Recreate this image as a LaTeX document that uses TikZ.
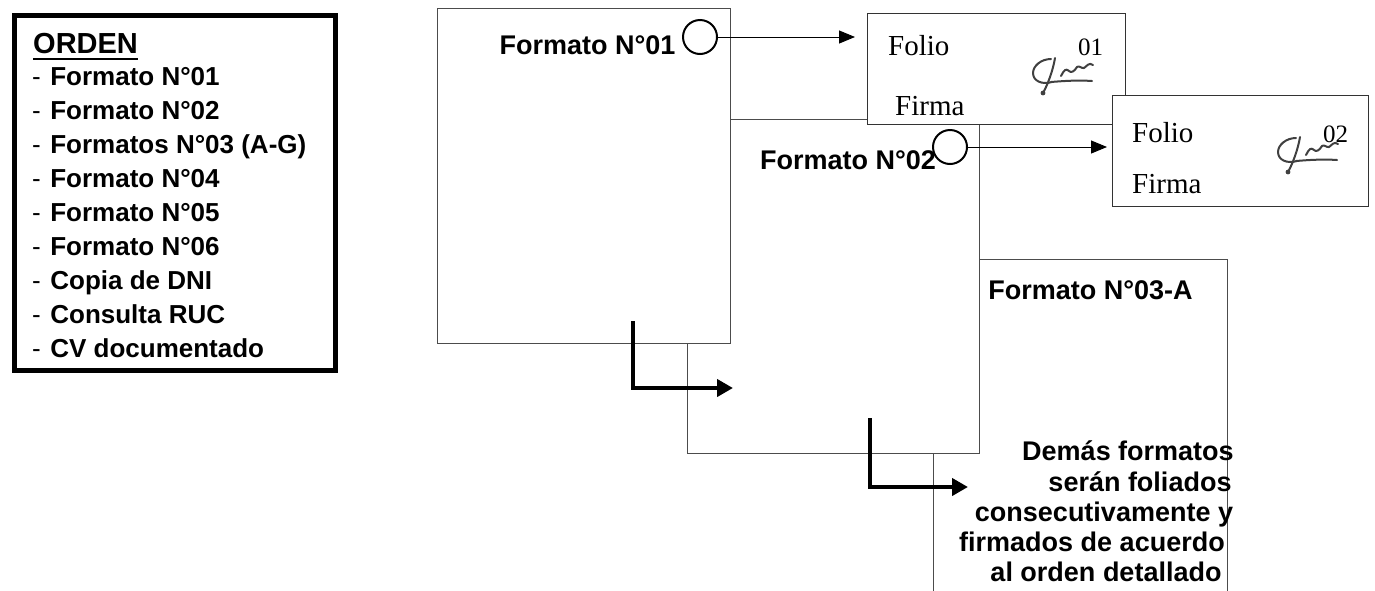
\documentclass[tikz,border=0pt]{standalone}
\usepackage{fontspec}
\setmainfont{Liberation Serif}
\newfontfamily\arialf{Liberation Sans}
\usetikzlibrary{arrows.meta}
\tikzset{
  bigbox/.style={draw=black!70, line width=1.2pt, fill=white, rectangle, inner sep=0, anchor=north west},
  folbox/.style={draw=black!80, line width=1pt, fill=white, rectangle, inner sep=0, anchor=north west},
  lbl/.style={font=\arialf\bfseries\fontsize{27}{31}\selectfont, inner sep=0, anchor=base},
  lst/.style={font=\arialf\fontsize{26}{30}\selectfont, inner sep=0, anchor=base west},
  fol/.style={font=\fontsize{29}{33}\selectfont, inner sep=0, anchor=base west},
  num/.style={font=\fontsize{25}{29}\selectfont, inner sep=0, anchor=base west},
  ring/.style={draw, circle, line width=2pt, minimum size=34pt, inner sep=0},
  thinarrow/.style={-{Triangle[length=16pt,width=13pt]}, line width=1pt},
  bigarrow/.style={-{Triangle[length=16pt,width=17pt]}, line width=4pt, line join=miter},
  sigline/.style={draw=black!75, line width=2pt, line cap=round, line join=round},
  signa/.pic={
    \draw[sigline] (18,1) .. controls (8,1) and (0,8) .. (0,15) .. controls (0,23) and (9,27) .. (19,24);
    \draw[sigline] (22,0) .. controls (20,12) and (15,26) .. (10,35);
    \fill[black!75] (10,35) circle (2.4);
    \draw[sigline] (18,24) .. controls (30,23) and (45,22) .. (59,23);
    \draw[sigline] (28,18) .. controls (31,12) and (33,10) .. (36,13) .. controls (38,15) and (41,14) .. (44,9) .. controls (46,7) and (49,11) .. (51,10) .. controls (54,8) and (56,4) .. (60,7);
  }
}
\begin{document}
\begin{tikzpicture}[x=1pt, y=-1pt]
\useasboundingbox (0,0) rectangle (1375,590);
\clip (0,0) rectangle (1375,590);

% left list box
\node[draw, line width=4.5pt, rectangle, inner sep=0, minimum width=321pt, minimum height=355pt, anchor=north west] (ordbox) at (12,13) {};
\node[lbl, anchor=base west, font=\arialf\bfseries\fontsize{29}{33}\selectfont] (ord) at (33,53) {ORDEN};
\draw[line width=2.3pt] ([yshift=-6pt]ord.base west) -- ([yshift=-6pt]ord.base east);
\foreach \t [count=\i] in {Formato N°01, Formato N°02, Formatos N°03 (A-G), Formato N°04, Formato N°05, Formato N°06, Copia de DNI, Consulta RUC, CV documentado}{
  \node[lst] (li\i) at (32,{85+34*(\i-1)}) {-\hspace{9.5pt}{\bfseries \t}};
}

% stacked format sheets (back to front)
\node[bigbox, minimum width=294pt, minimum height=341pt] (b3) at (933,259) {};
\node[bigbox, minimum width=292pt, minimum height=334pt] (b2) at (687,119) {};
\node[bigbox, minimum width=293pt, minimum height=335pt] (b1) at (437,8) {};
\node[folbox, minimum width=258pt, minimum height=111pt] (f1) at (867,13) {};
\node[folbox, minimum width=256pt, minimum height=111pt] (f2) at (1112,95) {};

% labels
\node[lbl] (t1) at (587.5,54) {Formato N°01};
\node[lbl] (t2) at (848,169) {Formato N°02};
\node[lbl] (t3) at (1090.5,299) {Formato N°03-A};

\node[lbl] (d1) at (1128,460) {Demás formatos};
\node[lbl] (d2) at (1140,491) {serán foliados};
\node[lbl] (d3) at (1104,521) {consecutivamente y};
\node[lbl] (d4) at (1092,551) {firmados de acuerdo};
\node[lbl] (d5) at (1106,581) {al orden detallado};

% folio contents
\node[fol] (fo1) at (888,55) {Folio};
\node[num] (n1) at (1078,55) {01};
\node[fol] (fi1) at (895,115) {Firma};
\pic (sg1) at (1033,58) {signa};

\node[fol] (fo2) at (1132,142) {Folio};
\node[num] (n2) at (1323,142) {02};
\node[fol] (fi2) at (1132,193) {Firma};
\pic (sg2) at (1278,137) {signa};

% circles and arrows
\node[ring] (c1) at (700,37) {};
\node[ring] (c2) at (950,147) {};
\draw[thinarrow, shorten >=12pt] (c1) -- (c1 -| f1.west);
\draw[thinarrow, shorten >=5pt] (c2) -- (c2 -| f2.west);

% L-shaped arrows
\coordinate (l1s) at (633,321);
\coordinate (l1e) at (733,388);
\coordinate (l2s) at (870,418);
\coordinate (l2e) at (968,487);
\draw[bigarrow] (l1s) |- (l1e);
\draw[bigarrow] (l2s) |- (l2e);
\end{tikzpicture}
\end{document}
